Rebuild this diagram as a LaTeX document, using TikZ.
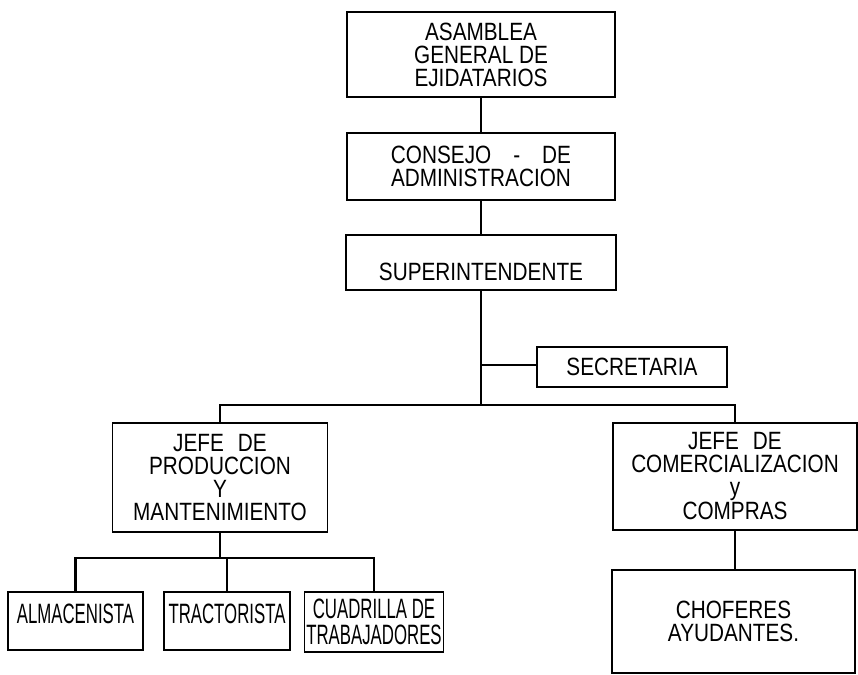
\documentclass[tikz,border=0pt]{standalone}
\usepackage{fontspec}
\setmainfont{Liberation Sans}[FakeStretch=0.83]
\newfontfamily\narrowfont{Liberation Sans}[FakeStretch=0.6]

\begin{document}
\begin{tikzpicture}[x=1pt, y=-1pt,
    frame/.style={draw, rectangle, line width=1.4pt, inner sep=2pt},
    orgbox/.style={frame, align=center, font=\fontsize{25}{23}\selectfont},
    smallbox/.style={frame, font=\narrowfont\fontsize{28}{26}\selectfont},
    twoline/.style={smallbox, align=center},
    link/.style={line width=2.2pt}]
    \useasboundingbox (0,0) rectangle (858,674);

    \node[orgbox, minimum width=268pt, minimum height=85pt] (asamblea) at (481,54.5)
        {ASAMBLEA\\GENERAL DE\\EJIDATARIOS};
    \node[orgbox, minimum width=268pt, minimum height=67pt] (consejo) at (481,166.5)
        {CONSEJO\hspace{22pt}-\hspace{22pt}DE\\ADMINISTRACION};
    \node[orgbox, minimum width=270pt, minimum height=55pt] (super) at (481,262.5)
        {\raisebox{-9pt}[\height][\depth]{SUPERINTENDENTE}};
    \node[orgbox, minimum width=190pt, minimum height=40pt] (secretaria) at (632,367)
        {SECRETARIA};
    \node[orgbox, minimum width=215pt, minimum height=109pt] (prod) at (220,477.5)
        {JEFE\hspace{14pt}DE\\PRODUCCION\\Y\\MANTENIMIENTO};
    \node[orgbox, minimum width=244pt, minimum height=107pt] (comer) at (735,476.5)
        {JEFE\hspace{14pt}DE\\COMERCIALIZACION\\y\\[1pt]COMPRAS};
    \node[smallbox, minimum width=135pt, minimum height=58pt, text height=28pt, text depth=24pt]
        (almacen) at (75.5,621) {ALMACENISTA};
    \node[smallbox, minimum width=126pt, minimum height=58pt, text height=28pt, text depth=24pt]
        (tractor) at (227,621) {TRACTORISTA};
    \node[twoline, minimum width=122pt, minimum height=60pt] (cuadrilla) at (374,622)
        {CUADRILLA DE\\TRABAJADORES};
    \node[orgbox, minimum width=243pt, minimum height=103pt] (choferes) at (733.5,621.5)
        {CHOFERES\\AYUDANTES.};

    \coordinate (hub) at (481,405);
    \coordinate (sec) at (481,365);
    \coordinate (pbus) at (220,558);

    \draw[link] (asamblea.south) -- (consejo.north);
    \draw[link] (consejo.south) -- (super.north);
    \draw[link] (super.south) -- (hub);
    \draw[link] (sec) -- (sec -| secretaria.west);
    \draw[link] (hub) -| (prod.north);
    \draw[link] (hub) -| (comer.north);
    \draw[link] (prod.south) -- (pbus);
    \draw[link] (pbus) -| (almacen.north);
    \draw[link] (pbus) -| (tractor.north);
    \draw[link] (pbus) -| (cuadrilla.north);
    \draw[link] (comer.south) -- (comer.south |- choferes.north);
\end{tikzpicture}
\end{document}
